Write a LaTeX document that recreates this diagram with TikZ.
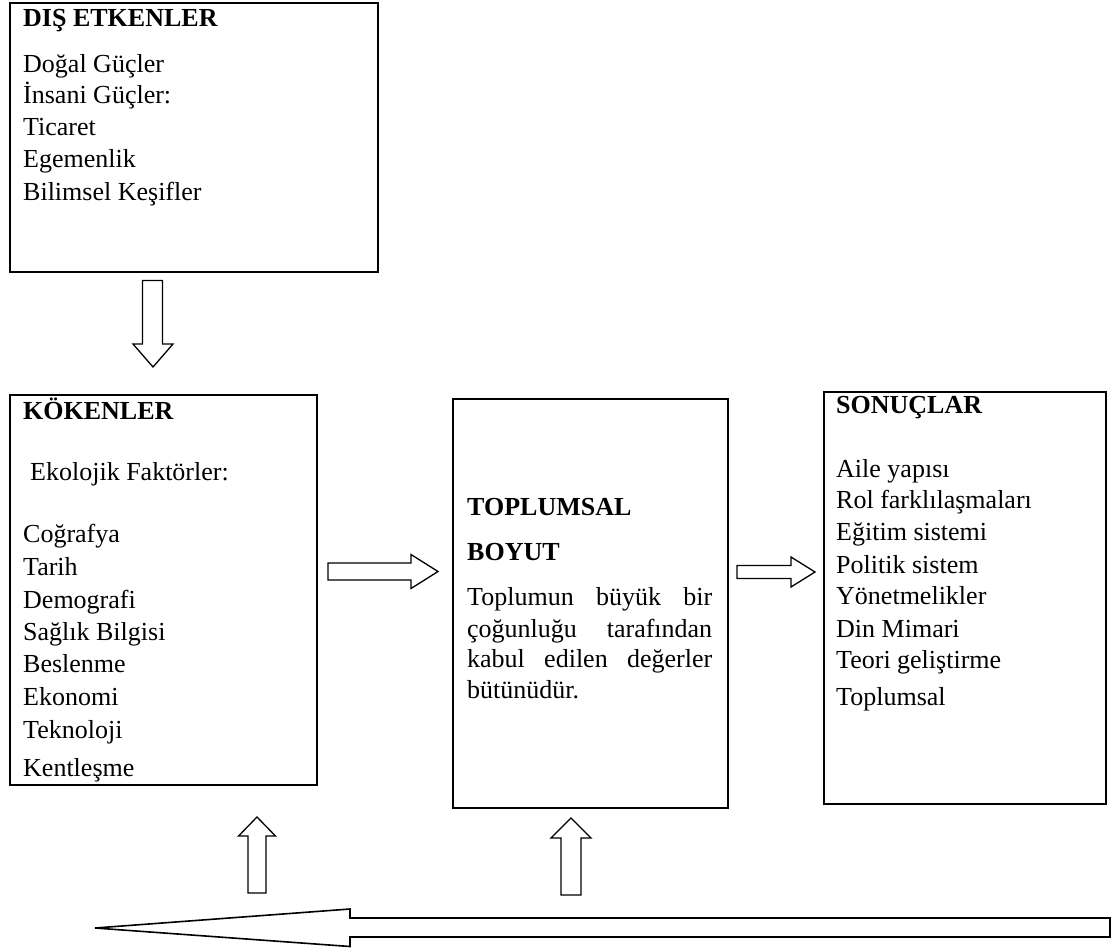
\documentclass[tikz,border=0pt]{standalone}
\usepackage{fontspec}
\setmainfont{Liberation Serif}
\begin{document}
\begin{tikzpicture}[x=1pt,y=-1pt,
  box/.style={draw, line width=2pt, inner sep=0pt, anchor=north west},
  txt/.style={anchor=base west, inner sep=0pt, font=\fontsize{26}{32}\selectfont},
  head/.style={txt, font=\fontsize{26}{32}\selectfont\bfseries},
  barrow/.style={draw, line width=1.3pt, line join=miter, fill=white},
  bigarrow/.style={draw, line width=1.6pt, line join=miter, fill=white}]
\useasboundingbox (0,0) rectangle (1117,951);

% boxes
\node[box, minimum width=368.5pt, minimum height=269pt] (dis) at (8.5,2) {};
\node[box, minimum width=307pt, minimum height=390pt] (kok) at (8.5,394) {};
\node[box, minimum width=275.5pt, minimum height=409pt] (top) at (451.5,398) {};
\node[box, minimum width=281.5pt, minimum height=412pt] (son) at (823,391) {};

% DIS ETKENLER
\node[head] (dish) at (23,26) {DIŞ ETKENLER};
\foreach \t/\y [count=\i] in {Doğal Güçler/72, İnsani Güçler:/103, Ticaret/135, Egemenlik/167, Bilimsel Keşifler/200}
  \node[txt] (d\i) at (23,\y) {\t};

% KOKENLER
\node[head] (kokh) at (23,419) {KÖKENLER};
\node[txt] (koks) at (30,480) {Ekolojik Faktörler:};
\foreach \t/\y [count=\i] in {Coğrafya/542, Tarih/575, Demografi/608, Sağlık Bilgisi/640, Beslenme/672, Ekonomi/705, Teknoloji/738, Kentleşme/776}
  \node[txt] (k\i) at (23,\y) {\t};

% TOPLUMSAL BOYUT
\node[head] (toph1) at (467,515) {TOPLUMSAL};
\node[head] (toph2) at (467,560) {BOYUT};
\node[txt] (t1) at (467,605) {\makebox[245pt][s]{Toplumun büyük bir}};
\node[txt] (t2) at (467,637) {\makebox[245pt][s]{çoğunluğu \ tarafından}};
\node[txt] (t3) at (467,667) {\makebox[245pt][s]{kabul edilen değerler}};
\node[txt] (t4) at (467,698) {bütünüdür.};

% SONUCLAR
\node[head] (sonh) at (836,413) {SONUÇLAR};
\foreach \t/\y [count=\i] in {Aile yapısı/477, Rol farklılaşmaları/508, Eğitim sistemi/540, Politik sistem/573, Yönetmelikler/604, Din Mimari/637, Teori geliştirme/668, Toplumsal/705}
  \node[txt] (s\i) at (836,\y) {\t};

% block arrows
\draw[barrow] (142.5,280.5) -- (162.5,280.5) -- (162.5,344) -- (173,344) -- (153,367) -- (133,344) -- (142.5,344) -- cycle;
\draw[barrow] (328,563) -- (411,563) -- (411,554.5) -- (438,571.5) -- (411,588.5) -- (411,580) -- (328,580) -- cycle;
\draw[barrow] (737,565.5) -- (791,565.5) -- (791,557) -- (815,572) -- (791,587) -- (791,578.5) -- (737,578.5) -- cycle;
\draw[barrow] (248,893) -- (248,836) -- (238.5,836) -- (257,817) -- (275.5,836) -- (266,836) -- (266,893) -- cycle;
\draw[barrow] (561,895) -- (561,838) -- (551,838) -- (571,818) -- (591,838) -- (581,838) -- (581,895) -- cycle;
\draw[bigarrow] (1110,918) -- (350,918) -- (350,909) -- (95,928) -- (350,946.5) -- (350,937) -- (1110,937) -- cycle;
\end{tikzpicture}
\end{document}
